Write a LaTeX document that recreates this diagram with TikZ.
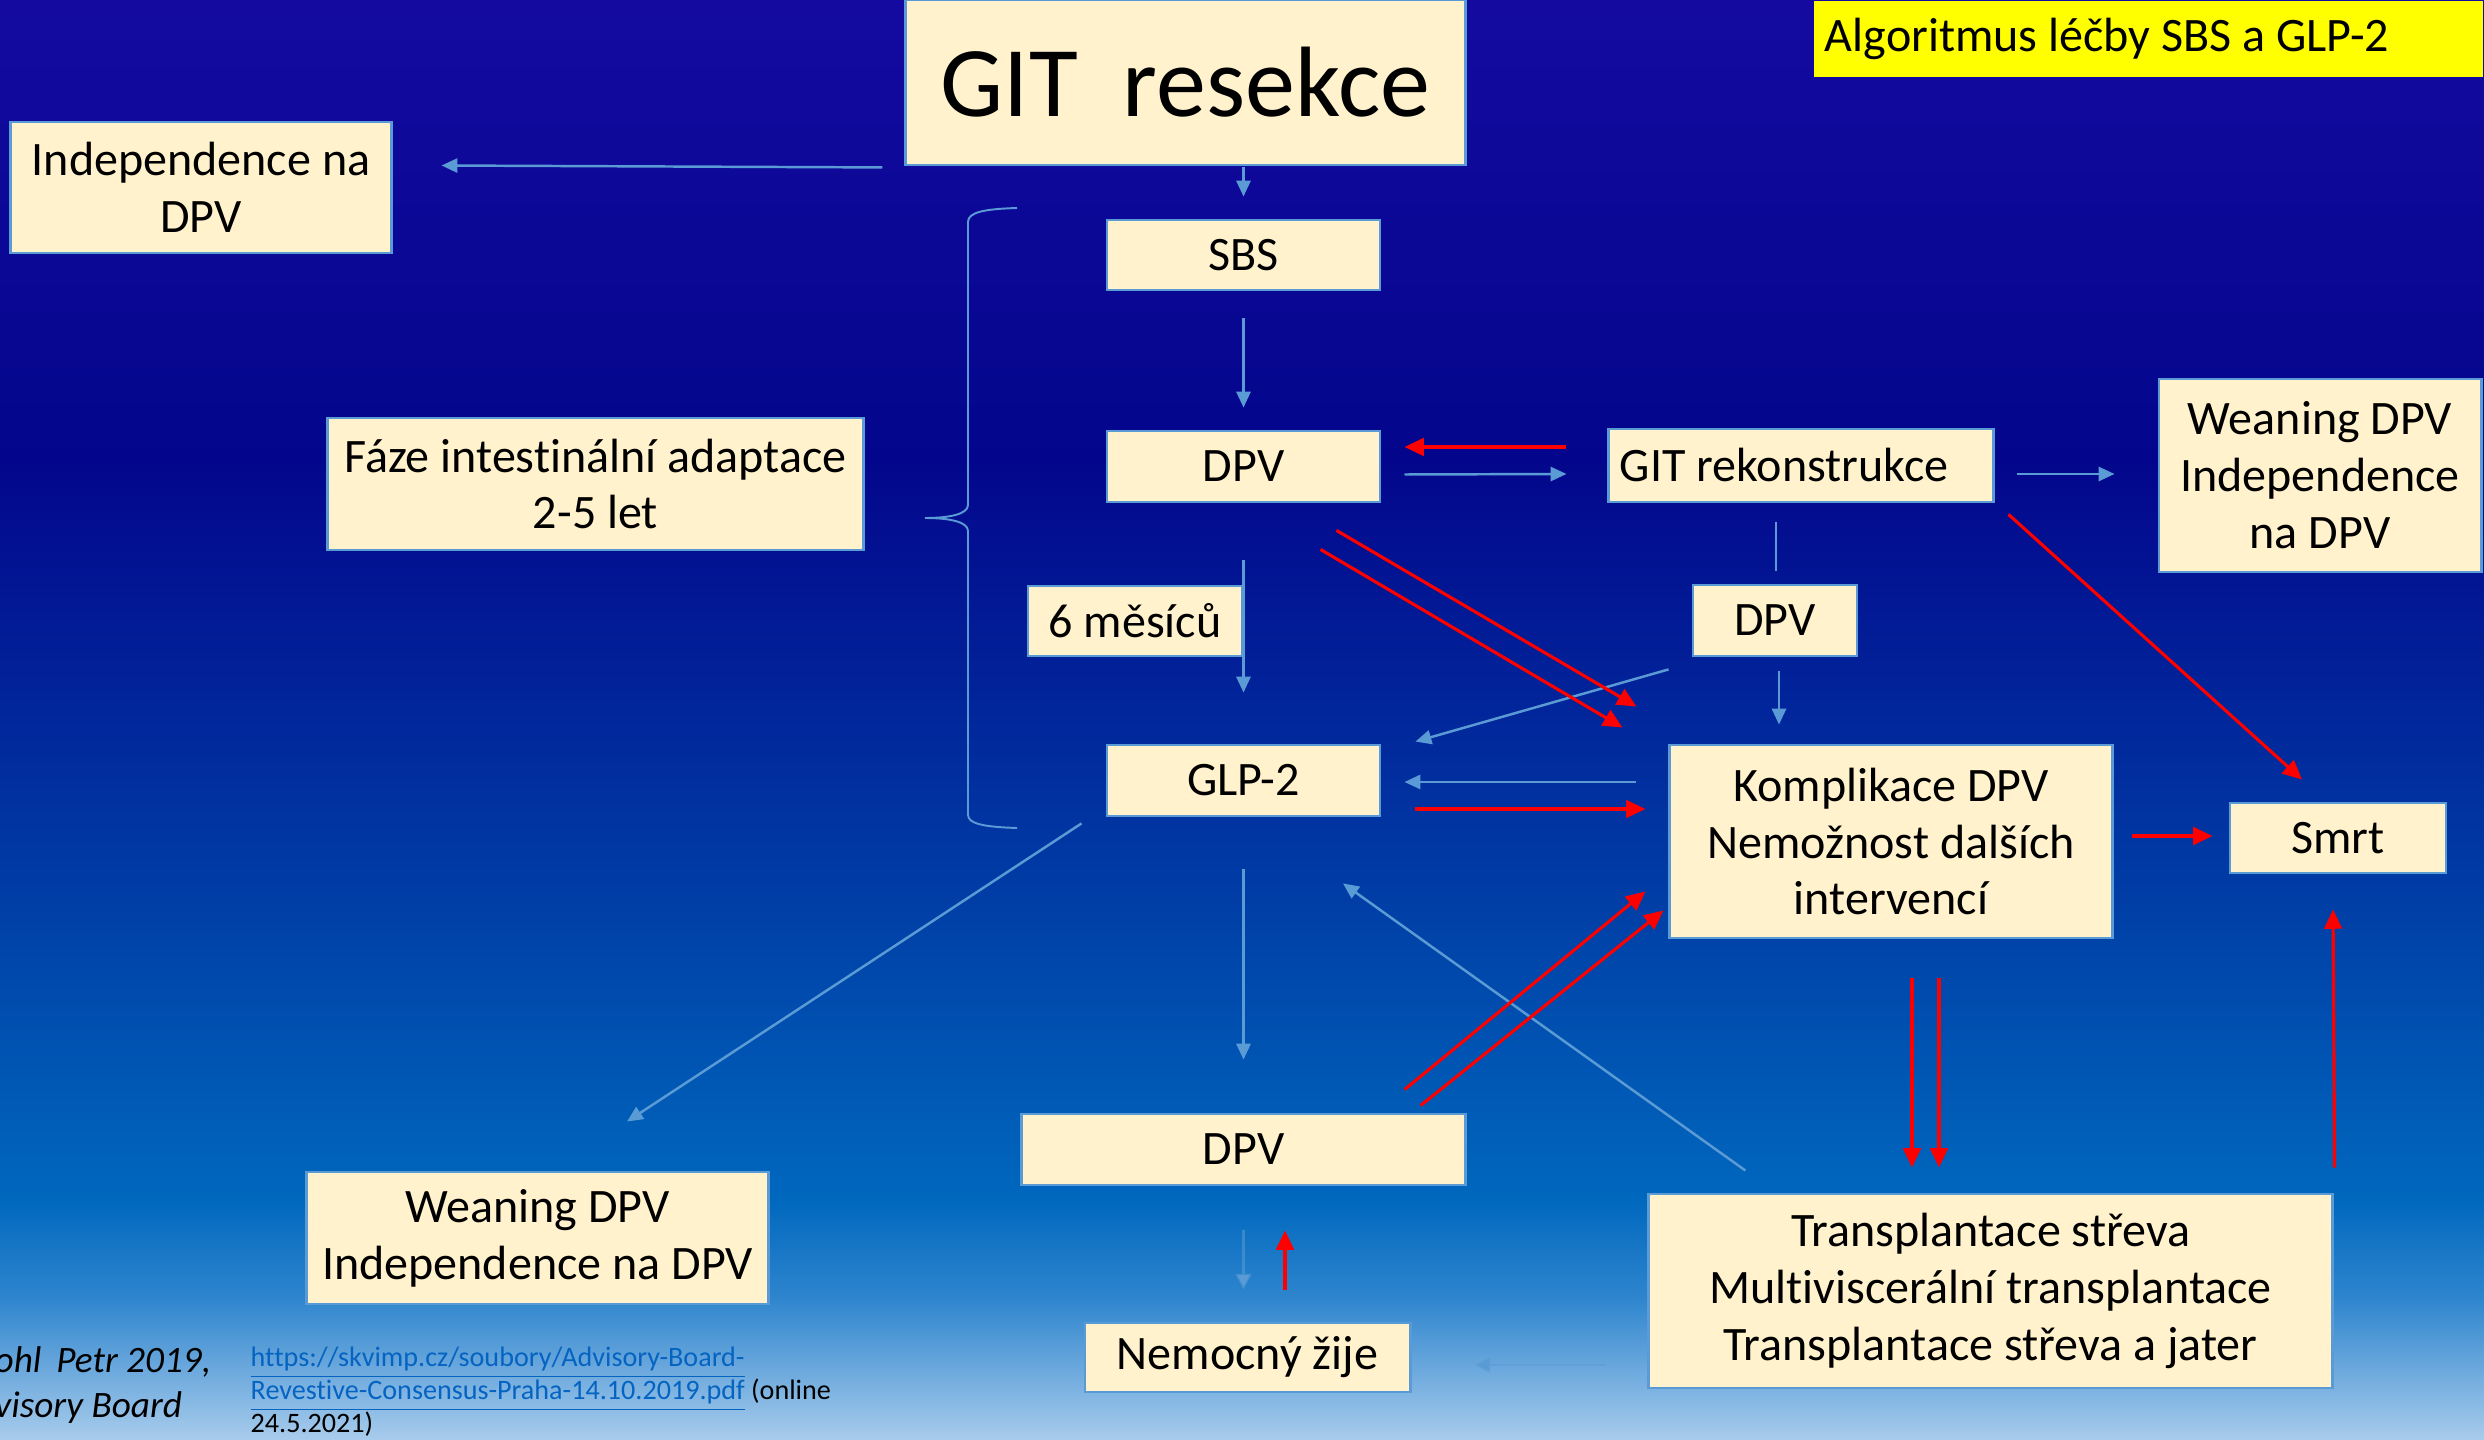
\documentclass[tikz,border=0pt]{standalone}
\usepackage{fontspec}
\setmainfont{Carlito}[Ligatures=NoCommon]
\usetikzlibrary{arrows.meta}
\definecolor{cream}{HTML}{FFF2CC}
\definecolor{lblue}{HTML}{5B9BD5}
\definecolor{linkblue}{HTML}{0563C1}
\definecolor{bgA}{HTML}{140AA0}
\definecolor{bgB}{HTML}{03068C}
\definecolor{bgC}{HTML}{003EA6}
\definecolor{bgD}{HTML}{0068BE}
\definecolor{bgE}{HTML}{3086CE}
\definecolor{bgF}{HTML}{A8CCEC}
\definecolor{titleyellow}{HTML}{FFFF00}
\begin{document}
\begin{tikzpicture}[x=0.01cm,y=-0.01cm,
  box/.style={draw=lblue, line width=0.8pt, fill=cream, inner sep=0pt, align=center,
    font=\fontsize{13.66}{16.2}\selectfont, text=black},
  barrow/.style={draw=lblue, line width=0.7pt, -{Triangle[length=4.5pt,width=4pt]}},
  fadearrow/.style={draw=lblue, draw opacity=0.55, line width=0.8pt, -{Triangle[length=4.5pt,width=4.5pt]}},
  rarrow/.style={draw=red, line width=0.9pt, -{Triangle[length=5.5pt,width=5pt]}},
  bline/.style={draw=lblue, line width=0.5pt},
]
\useasboundingbox (0,0) rectangle (2484,1440);
% background
\shade[top color=bgA, bottom color=bgB] (0,0) rectangle (2484,461);
\shade[top color=bgB, bottom color=bgC] (0,460) rectangle (2484,901);
\shade[top color=bgC, bottom color=bgD] (0,900) rectangle (2484,1201);
\shade[top color=bgD, bottom color=bgE] (0,1200) rectangle (2484,1301);
\shade[top color=bgE, bottom color=bgF] (0,1300) rectangle (2484,1440);

% title
\node[fill=titleyellow, anchor=north east, inner xsep=0.11cm, inner ysep=0pt,
  minimum height=0.76cm, font=\fontsize{13.66}{16.2}\selectfont] (title) at (2484,0)
  {\makebox[6.47cm][l]{Algoritmus léčby SBS a GLP-2}};

% boxes
\node[box, minimum width=5.59cm, minimum height=1.65cm, font=\fontsize{28.45}{34}\selectfont] (git) at (1185.5,82.5) {GIT\hspace{0.45em}resekce};
\node[box, minimum width=3.80cm, minimum height=1.31cm] (indep) at (201,187.5) {Independence na\\DPV};
\node[box, minimum width=2.73cm, minimum height=0.70cm] (sbs) at (1243.5,255) {SBS};
\node[box, minimum width=2.73cm, minimum height=0.71cm] (dpva) at (1243.5,466.5) {DPV};
\node[box, minimum height=0.73cm, inner xsep=0.11cm] (rek) at (1801,465.5) {\makebox[3.62cm][l]{GIT rekonstrukce}};
\node[box, minimum width=3.22cm, minimum height=1.93cm] (weanr) at (2320,475.5) {Weaning DPV\\Independence\\na DPV};
\node[box, minimum width=5.35cm, minimum height=1.32cm] (faze) at (595.5,484) {Fáze intestinální adaptace\\2-5 let};
\node[box, minimum width=2.14cm, minimum height=0.70cm] (six) at (1135,621) {6 měsíců};
\node[box, minimum width=1.64cm, minimum height=0.71cm] (dpvb) at (1775,620.5) {DPV};
\node[box, minimum width=2.73cm, minimum height=0.71cm] (glp) at (1243.5,780.5) {GLP-2};
\node[box, minimum width=4.42cm, minimum height=1.93cm] (kompl) at (1891,841.5) {Komplikace DPV\\Nemožnost dalších\\intervencí};
\node[box, minimum width=2.16cm, minimum height=0.70cm] (smrt) at (2338,838) {Smrt};
\node[box, minimum width=4.43cm, minimum height=0.71cm] (dpvc) at (1243.5,1149.5) {DPV};
\node[box, minimum width=4.61cm, minimum height=1.32cm] (weanl) at (537.5,1238) {Weaning DPV\\Independence na DPV};
\node[box, minimum width=3.25cm, minimum height=0.69cm] (nem) at (1247.5,1357.5) {Nemocný žije};
\node[box, minimum width=6.83cm, minimum height=1.94cm] (trans) at (1990.5,1291) {Transplantace střeva\\Multiviscerální transplantace\\Transplantace střeva a jater};

% brace
\draw[lblue, line width=0.55pt] (1017,208) .. controls (985,209) and (968,212) .. (968,222) -- (968,505)
  .. controls (968,514) and (950,518) .. (925,518) .. controls (950,518) and (968,522) .. (968,531)
  -- (968,815) .. controls (968,824) and (985,827) .. (1017,828);

% blue connectors
\draw[barrow] ([shift={(-22,1)}]git.south west) -- ([shift={(49,-22)}]indep.east);
\draw[barrow] ([shift={(0,-52)}]sbs.north) -- ([shift={(0,-22)}]sbs.north);
\draw[barrow] ([shift={(0,27)}]sbs.south) -- ([shift={(0,-22)}]dpva.north);
\draw[barrow] ([shift={(23,8)}]dpva.east) -- ([shift={(-41,8.5)}]rek.west);
\draw[barrow] ([shift={(22,8.5)}]rek.east) -- ([shift={(-43,-1.5)}]weanr.west);
\draw[bline] ([shift={(1,-62)}]dpvb.north) -- ([shift={(1,-13)}]dpvb.north);
\draw[barrow] ([shift={(0,57)}]dpva.south) -- ([shift={(0,-51)}]glp.north);
\draw[barrow] ([shift={(4,14)}]dpvb.south) -- ([shift={(-112,-19)}]kompl.north);
\draw[barrow] ([shift={(-23,12)}]dpvb.south west) -- ([shift={(34,-2)}]glp.north east);
\draw[barrow] ([shift={(-32,-59.5)}]kompl.west) -- ([shift={(23,1.5)}]glp.east);
\draw[barrow] ([shift={(-24,6)}]glp.south west) -- ([shift={(89.5,-49)}]weanl.north);
\draw[barrow] ([shift={(0,52)}]glp.south) -- ([shift={(0,-53)}]dpvc.north);
\draw[barrow] ([shift={(98,-22)}]trans.north west) -- ([shift={(99.5,66)}]glp.south);
\draw[fadearrow] ([shift={(0,44)}]dpvc.south) -- ([shift={(-4,-32)}]nem.north);
\draw[fadearrow] ([shift={(-41,74)}]trans.west) -- ([shift={(63,7.5)}]nem.east);

% red connectors
\draw[rarrow] ([shift={(-41,-18.5)}]rek.west) -- ([shift={(23,-19.5)}]dpva.east);
\draw[rarrow] ([shift={(33,28.5)}]glp.east) -- ([shift={(-23,-32.5)}]kompl.west);
\draw[rarrow] ([shift={(-62,-23)}]dpvc.north east) -- ([shift={(-23,-48)}]kompl.south west);
\draw[rarrow] ([shift={(-46,-7)}]dpvc.north east) -- ([shift={(-5,-29)}]kompl.south west);
\draw[rarrow] ([shift={(-45,27)}]dpva.south east) -- ([shift={(-32,-37)}]kompl.north west);
\draw[rarrow] ([shift={(-61,46)}]dpva.south east) -- ([shift={(-46,-16)}]kompl.north west);
\draw[rarrow] ([shift={(14,11)}]rek.south east) -- ([shift={(-36,-22)}]smrt.north);
\draw[rarrow] ([shift={(18,-5.5)}]kompl.east) -- ([shift={(-16,-2)}]smrt.west);
\draw[rarrow] ([shift={(21,39)}]kompl.south) -- ([shift={(-78.5,-25)}]trans.north);
\draw[rarrow] ([shift={(48,39)}]kompl.south) -- ([shift={(-51.5,-25)}]trans.north);
\draw[rarrow] ([shift={(1,-25)}]trans.north east) -- ([shift={(-5,35)}]smrt.south);
\draw[rarrow] ([shift={(37.5,-32)}]nem.north) -- ([shift={(41.5,44)}]dpvc.south);

% footer
\node[anchor=west, inner sep=0pt, font=\fontsize{10.6}{12.7}\selectfont\itshape] (auth1) at (-6,1362) {ohl\hspace{0.4em}Petr 2019,};
\node[anchor=west, inner sep=0pt, font=\fontsize{10.6}{12.7}\selectfont\itshape] (auth2) at (-6,1408) {visory Board};
\node[anchor=west, inner sep=0pt, align=left, font=\fontsize{8.0}{9.39}\selectfont] (link) at (250,1392)
  {\textcolor{linkblue}{\underline{https://skvimp.cz/soubory/Advisory-Board-}}\\
   \textcolor{linkblue}{\underline{Revestive-Consensus-Praha-14.10.2019.pdf}} (online\\
   24.5.2021)};
\end{tikzpicture}
\end{document}
